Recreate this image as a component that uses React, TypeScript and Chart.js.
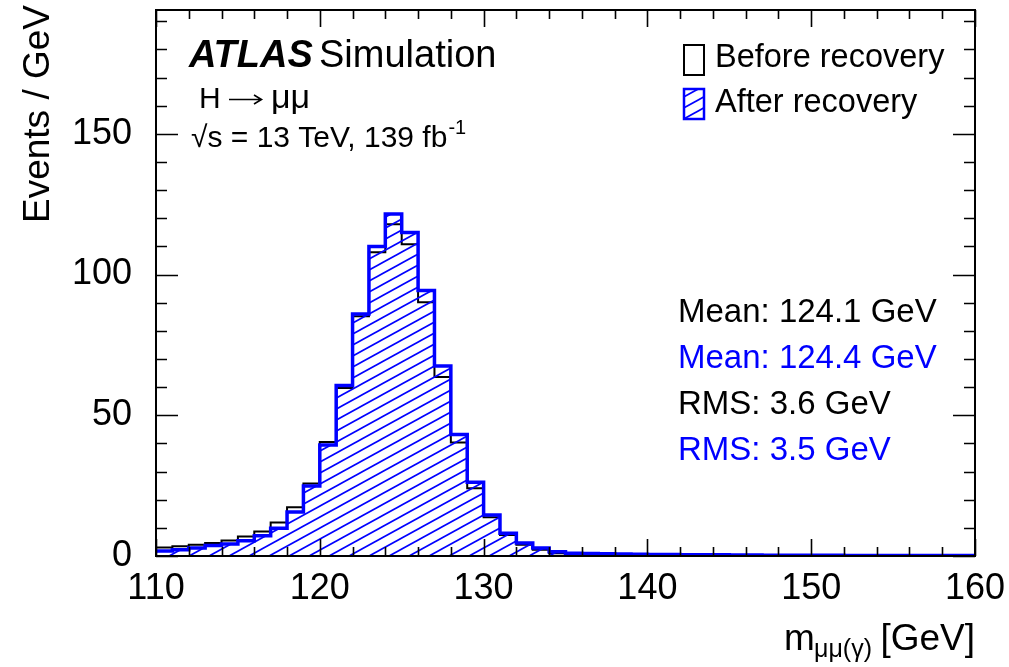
import React, { useEffect, useRef } from 'react';
import { Chart, registerables } from 'chart.js';

Chart.register(...registerables);

// ---- data ----
const binLowEdges = [
  110, 111, 112, 113, 114, 115, 116, 117, 118, 119,
  120, 121, 122, 123, 124, 125, 126, 127, 128, 129,
  130, 131, 132, 133, 134, 135, 136, 137, 138, 139,
  140, 141, 142, 143, 144, 145, 146, 147, 148, 149,
  150, 151, 152, 153, 154, 155, 156, 157, 158, 159,
];
const lastBinUpperEdge = 160;

const beforeRecovery = [
  3.0, 3.5, 4.0, 4.6, 5.5, 6.9, 8.7, 11.9, 17.3, 25.8,
  40.5, 59.7, 85.2, 107.9, 117.9, 110.8, 90.2, 63.6, 40.3, 24.1,
  13.8, 7.5, 4.0, 2.2, 1.0, 0.7, 0.6, 0.5, 0.45, 0.4,
  0.35, 0.3, 0.3, 0.25, 0.25, 0.2, 0.2, 0.2, 0.15, 0.15,
  0.15, 0.15, 0.1, 0.1, 0.1, 0.1, 0.1, 0.1, 0.1, 0.1,
];
const afterRecovery = [
  1.8, 2.2, 2.8, 3.7, 4.3, 5.4, 7.2, 9.9, 15.6, 24.9,
  39.4, 60.6, 86.0, 110.0, 121.5, 114.9, 94.3, 67.5, 43.2, 26.2,
  14.6, 8.1, 4.6, 2.8, 1.5, 1.0, 0.9, 0.8, 0.7, 0.6,
  0.55, 0.5, 0.45, 0.4, 0.4, 0.35, 0.35, 0.3, 0.3, 0.3,
  0.25, 0.25, 0.2, 0.2, 0.2, 0.2, 0.15, 0.15, 0.15, 0.15,
];

const xTickValues = [110, 120, 130, 140, 150, 160];
const yTickValues = [0, 50, 100, 150];
const xMin = 110;
const xMax = 160;
const yMin = 0;
const yMax = 194;
const xMinorStep = 2;
const xMajorStep = 10;
const yMinorStep = 10;
const yMajorStep = 50;

const legendLabels = ['Before recovery', 'After recovery'];
const statsLines = [
  'Mean: 124.1 GeV',
  'Mean: 124.4 GeV',
  'RMS: 3.6 GeV',
  'RMS: 3.5 GeV',
];
const statsColors = ['#000000', '#0000ff', '#000000', '#0000ff'];

const FONT = "'Liberation Sans', Arial, Helvetica, sans-serif";
const BLUE = '#0000ff';

function toPoints(values: number[]) {
  const pts = binLowEdges.map((x, i) => ({ x, y: values[i] }));
  pts.push({ x: lastBinUpperEdge, y: values[values.length - 1] });
  return pts;
}

function makeHatch(): CanvasPattern | string {
  const W = 20;
  const H = 11;
  const c = document.createElement('canvas');
  c.width = W;
  c.height = H;
  const g = c.getContext('2d');
  if (!g) return BLUE;
  g.strokeStyle = BLUE;
  g.lineWidth = 1.7;
  for (let n = -1; n <= 1; n++) {
    g.beginPath();
    g.moveTo(-W, 2 * H + n * H);
    g.lineTo(2 * W, -H + n * H);
    g.stroke();
  }
  const p = g.createPattern(c, 'repeat');
  return p || BLUE;
}

export default function App() {
  const ref = useRef<HTMLCanvasElement | null>(null);

  useEffect(() => {
    document.body.style.margin = '0';
    const canvas = ref.current;
    if (!canvas) return;
    const hatch = makeHatch();

    const decor = {
      id: 'decor',
      afterDatasetsDraw(chart: any) {
        const { ctx, chartArea: a } = chart;
        const xs = chart.scales.x;
        const ys = chart.scales.y;
        ctx.save();
        ctx.strokeStyle = '#000';
        ctx.lineWidth = 1.6;
        ctx.beginPath();
        for (let v = xMin; v <= xMax + 1e-9; v += xMinorStep) {
          const px = Math.round(xs.getPixelForValue(v)) + 0.5;
          const L = v % xMajorStep === 0 ? 17 : 9;
          ctx.moveTo(px, a.bottom);
          ctx.lineTo(px, a.bottom - L);
          ctx.moveTo(px, a.top);
          ctx.lineTo(px, a.top + L);
        }
        for (let v = yMin; v <= yMax; v += yMinorStep) {
          const py = Math.round(ys.getPixelForValue(v)) + 0.5;
          const L = v % yMajorStep === 0 ? 22 : 11;
          ctx.moveTo(a.left, py);
          ctx.lineTo(a.left + L, py);
          ctx.moveTo(a.right, py);
          ctx.lineTo(a.right - L, py);
        }
        ctx.stroke();
        ctx.lineWidth = 2;
        ctx.strokeRect(a.left, a.top, a.right - a.left, a.bottom - a.top);
        ctx.restore();
      },
      afterDraw(chart: any) {
        const { ctx } = chart;
        ctx.save();
        ctx.fillStyle = '#000';
        ctx.textBaseline = 'alphabetic';
        ctx.textAlign = 'left';

        // ATLAS label
        ctx.font = `italic bold 38px ${FONT}`;
        ctx.fillText('ATLAS', 189, 67);
        ctx.font = `38px ${FONT}`;
        ctx.fillText('Simulation', 319, 67);

        // H -> mu mu
        ctx.font = `30px ${FONT}`;
        ctx.fillText('H', 199, 108);
        ctx.strokeStyle = '#000';
        ctx.lineWidth = 1.6;
        ctx.beginPath();
        ctx.moveTo(229, 99.5);
        ctx.lineTo(261, 99.5);
        ctx.moveTo(254, 95);
        ctx.lineTo(261.5, 99.5);
        ctx.lineTo(254, 104);
        ctx.stroke();
        ctx.font = `34px ${FONT}`;
        ctx.fillText('\u03bc\u03bc', 271, 108);

        ctx.font = `30px ${FONT}`;
        const line3 = '\u221as = 13 TeV, 139 fb';
        ctx.fillText(line3, 191, 147);
        const w3 = ctx.measureText(line3).width;
        ctx.font = `20px ${FONT}`;
        ctx.fillText('-1', 191 + w3 + 1, 134);

        // legend
        ctx.lineWidth = 2;
        ctx.strokeStyle = '#000';
        ctx.fillStyle = '#fff';
        ctx.fillRect(684, 45, 20, 30);
        ctx.strokeRect(684, 45, 20, 30);
        ctx.fillStyle = hatch as any;
        ctx.fillRect(684, 89, 20, 30);
        ctx.strokeStyle = BLUE;
        ctx.lineWidth = 2.5;
        ctx.strokeRect(684, 89, 20, 30);
        ctx.fillStyle = '#000';
        ctx.font = `32.5px ${FONT}`;
        ctx.fillText(legendLabels[0], 715, 67);
        ctx.fillText(legendLabels[1], 715, 112);

        // stats
        ctx.font = `33px ${FONT}`;
        const base = [322, 368, 414, 460];
        statsLines.forEach((s, i) => {
          ctx.fillStyle = statsColors[i];
          ctx.fillText(s, 678, base[i]);
        });

        // y title
        ctx.fillStyle = '#000';
        ctx.save();
        ctx.translate(49, 5);
        ctx.rotate(-Math.PI / 2);
        ctx.textAlign = 'right';
        ctx.font = `37px ${FONT}`;
        ctx.fillText('Events / GeV', 0, 0);
        ctx.restore();

        // x title
        ctx.textAlign = 'left';
        ctx.font = `37px ${FONT}`;
        ctx.fillText('m', 784, 650);
        ctx.font = `25px ${FONT}`;
        ctx.fillText('\u03bc\u03bc(\u03b3)', 814, 657);
        ctx.font = `37px ${FONT}`;
        ctx.textAlign = 'right';
        ctx.fillText('[GeV]', 975, 650);
        ctx.restore();
      },
    };

    const chart = new Chart(canvas, {
      type: 'line',
      data: {
        datasets: [
          {
            label: legendLabels[1],
            data: toPoints(afterRecovery),
            stepped: 'before',
            borderColor: BLUE,
            borderWidth: 3.5,
            backgroundColor: hatch as any,
            fill: 'origin',
            pointRadius: 0,
            order: 0,
          },
          {
            label: legendLabels[0],
            data: toPoints(beforeRecovery),
            stepped: 'before',
            borderColor: '#000000',
            borderWidth: 2,
            backgroundColor: 'rgba(0,0,0,0)',
            fill: false,
            pointRadius: 0,
            order: 1,
          },
        ],
      },
      options: {
        responsive: false,
        animation: false,
        devicePixelRatio: 1,
        layout: { padding: { top: 10, right: 34, bottom: 51, left: 0 } },
        plugins: {
          legend: { display: false },
          tooltip: { enabled: false },
          title: { display: false },
        },
        scales: {
          x: {
            type: 'linear',
            min: xMin,
            max: xMax,
            grid: { display: false, drawTicks: false },
            border: { display: false },
            ticks: {
              autoSkip: false,
              includeBounds: false,
              padding: 11,
              color: '#000',
              font: { family: FONT, size: 36 },
              maxRotation: 0,
            },
            afterBuildTicks: (s: any) => {
              s.ticks = xTickValues.map((v) => ({ value: v }));
            },
            afterFit: (s: any) => {
              s.height = 60;
              s.paddingLeft = 0;
              s.paddingRight = 0;
            },
          },
          y: {
            type: 'linear',
            min: yMin,
            max: yMax,
            grid: { display: false, drawTicks: false },
            border: { display: false },
            ticks: {
              autoSkip: false,
              includeBounds: false,
              padding: 24,
              color: '#000',
              font: { family: FONT, size: 36 },
            },
            afterBuildTicks: (s: any) => {
              s.ticks = yTickValues.map((v) => ({ value: v }));
            },
            afterFit: (s: any) => {
              s.width = 156;
              s.paddingTop = 0;
              s.paddingBottom = 0;
            },
          },
        },
      },
      plugins: [decor],
    } as any);

    return () => {
      chart.destroy();
    };
  }, []);

  return (
    <div style={{ width: 1009, height: 667, background: '#fff' }}>
      <canvas ref={ref} width={1009} height={667} style={{ display: 'block' }} />
    </div>
  );
}
